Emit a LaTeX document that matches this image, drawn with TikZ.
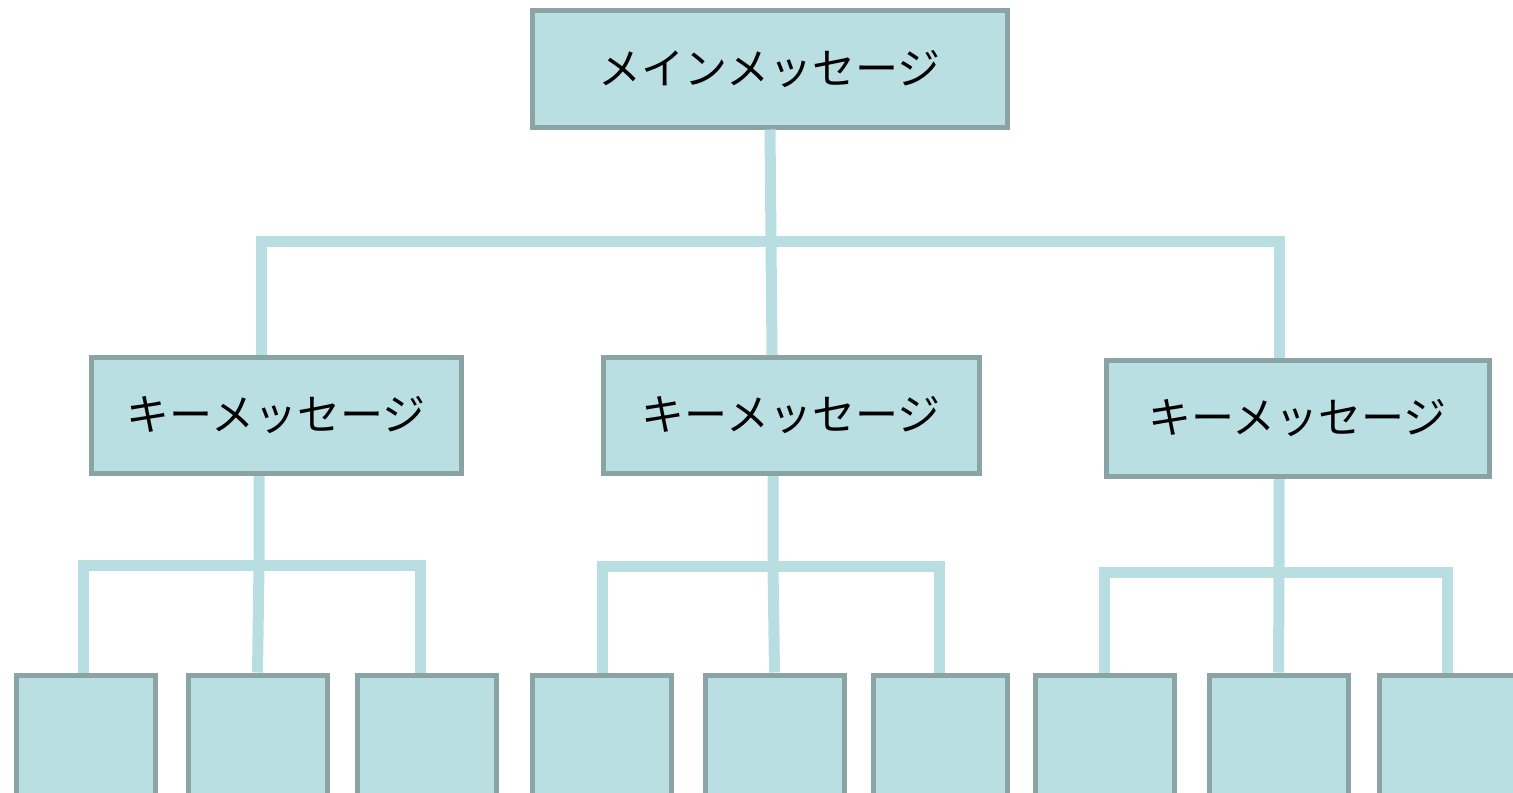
\documentclass[tikz,border=0pt]{standalone}
\usepackage{fontspec}
\setmainfont{Noto Sans CJK JP}
\definecolor{boxfill}{RGB}{186,223,226}
\definecolor{boxedge}{RGB}{138,164,166}
\definecolor{treeline}{RGB}{184,222,225}
\begin{document}
\begin{tikzpicture}[x=0.5pt, y=-0.5pt,
	msgbox/.style={draw=boxedge, fill=boxfill, line width=2.5pt, inner sep=0pt, minimum height=58pt, font=\fontsize{21.5}{25}\selectfont},
	leafbox/.style={draw=boxedge, fill=boxfill, line width=2.5pt, inner sep=0pt, minimum width=69.5pt, minimum height=100pt},
	branch/.style={draw=treeline, line width=5.5pt}]
	\useasboundingbox (0,0) rectangle (1513,792);
	% boxes
	\node[msgbox, minimum width=237.5pt] (main) at (769.5,69) {メインメッセージ};
	\node[msgbox, minimum width=185pt] (keyA) at (276,415.5) {キーメッセージ};
	\node[msgbox, minimum width=188pt] (keyB) at (791,415.5) {キーメッセージ};
	\node[msgbox, minimum width=191.5pt] (keyC) at (1297.5,418.5) {キーメッセージ};
	\node[leafbox] (leafA1) at (85.5,775) {};
	\node[leafbox] (leafA2) at (257.5,775) {};
	\node[leafbox] (leafA3) at (426.5,775) {};
	\node[leafbox] (leafB1) at (601.5,775) {};
	\node[leafbox] (leafB2) at (774.5,775) {};
	\node[leafbox, minimum width=67pt] (leafB3) at (940,775) {};
	\node[leafbox] (leafC1) at (1104.5,775) {};
	\node[leafbox] (leafC2) at (1278.5,775) {};
	\node[leafbox] (leafC3) at (1448.5,775) {};
	% bus coordinates
	\coordinate (busTop) at (771,241);
	\coordinate (busA) at (259,565);
	\coordinate (busB) at (773,566);
	\coordinate (busC) at (1279,572);
	% connectors
	\path[branch] (main.south -| 770,0) -- (busTop) -- (keyB.north -| 772,0);
	\path[branch] (keyA.north -| 261,0) |- (busTop) -| (keyC.north -| 1279,0);
	\path[branch] (keyA.south -| busA) -- (busA) -- (leafA2.north);
	\path[branch] (leafA1.north -| 83,0) |- (busA) -| (leafA3.north -| 420,0);
	\path[branch] (keyB.south -| busB) -- (busB) -- (leafB2.north);
	\path[branch] (leafB1.north -| 602,0) |- (busB) -| (leafB3.north -| 939,0);
	\path[branch] (keyC.south -| busC) -- (busC) -- (leafC2.north);
	\path[branch] (leafC1.north -| 1104,0) |- (busC) -| (leafC3.north -| 1447,0);
\end{tikzpicture}
\end{document}
